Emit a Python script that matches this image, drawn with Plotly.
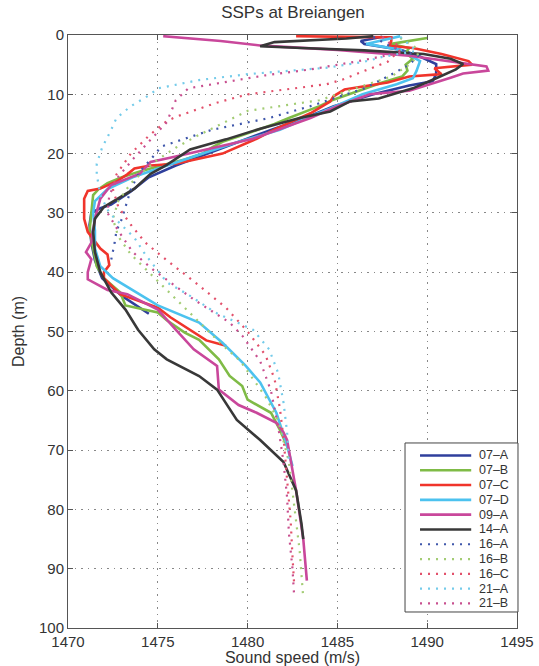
import plotly.graph_objects as go

# ---- data: depth (m) and sound speed (m/s) per profile ----
names = ["07–A", "07–B", "07–C", "07–D", "09–A", "14–A", "16–A", "16–B", "16–C", "21–A", "21–B"]

d_07A = [0.3, 1.0, 1.5, 2.5, 3.5, 4.9, 6.6, 7.8, 8.5, 10, 12, 14, 16, 18, 20, 22, 24, 26.4, 28.6, 29.2, 30, 32, 35, 38, 41, 44, 47]
c_07A = [1487.5, 1486.3, 1486.5, 1488.5, 1489.5, 1490.5, 1490.5, 1490.3, 1489, 1487, 1484.8, 1483.2, 1481.3, 1479.5, 1477.8, 1476, 1474.5, 1473.5, 1472.4, 1471.8, 1471.3, 1471.2, 1471.3, 1471.5, 1471.9, 1473, 1474.5]

d_07B = [0.5, 1.5, 2.2, 3, 4, 5, 6, 7, 8, 9, 10, 11, 12, 13, 14, 15, 16, 17, 18, 19, 20, 21, 22, 23, 24, 25, 26, 27, 30, 33, 36, 39, 41, 43.4, 45.6, 46.8, 48.1, 50.2, 51.4, 54.7, 57.5, 59.2, 61.5, 63.7, 66.6, 70]
c_07B = [1490, 1488, 1489, 1488.8, 1489.2, 1488.8, 1488.9, 1488.6, 1487.5, 1486.6, 1485.6, 1484.7, 1484, 1483.1, 1482.3, 1481.5, 1480.6, 1479.6, 1478.6, 1478, 1477.5, 1476.5, 1475.2, 1474, 1473, 1472.2, 1471.7, 1471.4, 1471.3, 1471.2, 1471.4, 1471.6, 1472, 1472.9, 1473.2, 1475, 1475.5, 1476.5, 1477.3, 1478.4, 1479, 1479.7, 1480, 1481.3, 1481.8, 1482.3]

d_07C = [0.2, 0.4, 1.0, 1.8, 2.2, 3.2, 4.4, 5.0, 5.6, 6.6, 7.0, 8, 9.2, 10.3, 11.2, 13.2, 15.8, 17.5, 20, 21.7, 22, 22.5, 23.5, 24.7, 25.9, 26.3, 27.6, 31, 33.2, 36, 37, 38.8, 40, 41, 43.7, 46, 47.6, 51.5, 52.4]
c_07C = [1482.7, 1488, 1488, 1487.9, 1489.2, 1490.8, 1492.3, 1492.5, 1490.4, 1490.8, 1489, 1487.8, 1485.4, 1484.8, 1484.6, 1483.5, 1481.6, 1480.5, 1478.6, 1476, 1474.6, 1473.7, 1473.3, 1472.7, 1471.8, 1471.1, 1470.9, 1470.9, 1471.1, 1471.8, 1472.2, 1472.3, 1472, 1472, 1472.9, 1475, 1475.7, 1477.7, 1478.8]

d_07D = [0.2, 1.5, 2.5, 4.4, 6.1, 7.3, 8.3, 10, 12.4, 14, 16, 18, 20, 22, 24, 26, 28, 30, 33, 36, 39, 41, 43, 45.6, 48.5, 51.9, 55.8, 58.6, 63.7, 69.3, 72.7]
c_07D = [1488.5, 1486.6, 1488.5, 1489.6, 1489.4, 1489.2, 1488.3, 1486.4, 1484.6, 1483.3, 1481.8, 1479.5, 1477.5, 1475.5, 1473.6, 1472.2, 1471.5, 1471.4, 1471.5, 1471.5, 1471.8, 1472.5, 1473.6, 1475, 1477.3, 1478.6, 1479.9, 1480.7, 1481.6, 1482.2, 1482.5]

d_09A = [0.2, 1.0, 1.8, 2.5, 3.5, 4.5, 5.3, 6.0, 6.5, 7.2, 9.4, 10, 12, 14, 16, 17.5, 20.5, 21.4, 23.4, 25.3, 27.6, 31, 35, 36.6, 37.8, 40, 41.2, 43, 43.7, 46.3, 49.7, 53, 55.8, 59.8, 62.4, 63.7, 65.4, 67, 68.3, 76.8, 85, 92]
c_09A = [1475.3, 1478.5, 1480.8, 1485, 1489, 1491.5, 1493.3, 1493.4, 1492, 1491.3, 1489, 1486.8, 1485, 1483.5, 1481.7, 1480.3, 1476, 1474.6, 1474, 1472.4, 1471.8, 1471.5, 1471.3, 1471, 1471.3, 1471.1, 1471.1, 1472.2, 1473.3, 1475, 1476, 1477, 1478.3, 1478.4, 1479.5, 1480.5, 1481.6, 1482, 1482.2, 1482.7, 1483.1, 1483.3]

d_14A = [0.2, 0.6, 1.2, 1.9, 2.2, 2.6, 3.2, 4.0, 4.9, 5.8, 7.3, 9, 10.7, 11.2, 12.9, 14, 15.8, 17.6, 19.3, 21.9, 23.4, 25.9, 29, 31, 33.2, 36.6, 40, 43.4, 46.3, 49.7, 53, 54.7, 57.5, 59.8, 64.9, 68.3, 72, 76.8, 82.4, 85]
c_14A = [1487, 1485.5, 1481.5, 1480.7, 1483, 1486.5, 1489.8, 1491.3, 1492, 1491.6, 1490.5, 1489.2, 1487.3, 1485.7, 1484.6, 1482.9, 1480.7, 1478.8, 1476.8, 1475.5, 1474.6, 1473.7, 1472, 1471.5, 1471.4, 1471.5, 1471.8, 1472.4, 1473.2, 1473.9, 1474.8, 1475.5, 1477.3, 1478.3, 1479.4, 1480.7, 1482, 1482.7, 1483, 1483.1]

d_16A = [0.3, 2, 3.5, 5, 7, 9, 10.5, 12, 14, 16, 18.8, 21, 23, 26, 28, 31, 33, 35, 38]
c_16A = [1487, 1488, 1489.5, 1489, 1487.8, 1486.5, 1485, 1483.5, 1481.2, 1478, 1475.2, 1474.6, 1474, 1473.5, 1473.3, 1473, 1472.7, 1472.6, 1472.4]

d_16B = [0.5, 2, 3.5, 5, 7, 9, 11, 12.8, 15, 17, 19, 21, 23, 25, 28, 31, 34, 37, 40, 43, 46, 49, 52, 55, 58, 61, 65, 68.6, 72, 77, 82, 87, 91, 95]
c_16B = [1488.5, 1489.3, 1489.5, 1489, 1488, 1486, 1484, 1480, 1478.5, 1477.2, 1476, 1475, 1474.2, 1473.5, 1472.8, 1472.5, 1472.8, 1473.5, 1474.5, 1475.5, 1476.5, 1477.5, 1478.5, 1479.6, 1480.3, 1481, 1481.7, 1482, 1482.3, 1482.5, 1482.7, 1482.9, 1483, 1483.1]

d_16C = [0.3, 2.5, 4.5, 6, 7.5, 8.3, 10, 11.5, 13.7, 14.5, 17, 20, 23.5, 26, 29, 32, 35, 38, 42, 46, 50, 54, 58, 63, 68, 75, 82, 88, 93]
c_16C = [1488, 1488.5, 1487.8, 1486.5, 1485.3, 1484.4, 1480, 1478.2, 1476.1, 1475.5, 1474.5, 1473.5, 1472.7, 1472.5, 1472.8, 1473.5, 1474.3, 1475.5, 1477.2, 1478.8, 1480, 1481, 1481.5, 1481.8, 1482, 1482.2, 1482.4, 1482.5, 1482.6]

d_21A = [0.3, 2.7, 3.7, 4.5, 5.5, 6.6, 7.6, 9, 10, 12, 14, 16, 19, 21.7, 23.5, 27, 30, 34.2, 37, 40, 41.7, 44, 46.8, 49.7, 53, 57, 62, 67, 72]
c_21A = [1488.5, 1489.4, 1487.5, 1486.5, 1484.5, 1480, 1477.3, 1475, 1474.6, 1473.5, 1472.7, 1472.4, 1471.9, 1471.6, 1471.6, 1471.8, 1472.3, 1473.7, 1474.3, 1475.1, 1475.5, 1476.8, 1478.2, 1480.3, 1481.2, 1481.7, 1482, 1482.2, 1482.3]

d_21B = [0.3, 3, 4.5, 5.8, 6.8, 9, 11, 14.7, 18, 21, 23.9, 27, 30, 33, 36.6, 39.5, 44.6, 48.5, 50.7, 55, 60, 66, 72, 78, 84, 90, 95]
c_21B = [1487.5, 1488.5, 1486, 1483.5, 1481, 1476.7, 1476, 1475.5, 1474.5, 1473.6, 1472.8, 1472.3, 1472.2, 1472.8, 1473.6, 1474.7, 1477, 1479, 1479.7, 1480.7, 1481.3, 1481.7, 1482, 1482.2, 1482.3, 1482.5, 1482.6]

depths = [d_07A, d_07B, d_07C, d_07D, d_09A, d_14A, d_16A, d_16B, d_16C, d_21A, d_21B]
speeds = [c_07A, c_07B, c_07C, c_07D, c_09A, c_14A, c_16A, c_16B, c_16C, c_21A, c_21B]

x_ticks = [1470, 1475, 1480, 1485, 1490, 1495]
y_ticks = [0, 10, 20, 30, 40, 50, 60, 70, 80, 90, 100]

# ---- styles ----
colors = ["#2f3f9c", "#7fbb46", "#f0342b", "#4cc2ef", "#c9479b", "#383838",
          "#3f57ab", "#a3cc74", "#e2506b", "#74cbea", "#c84f8f"]
dashes = ["solid"] * 6 + ["2px,6px"] * 5
widths = [2.6] * 6 + [2.2] * 5

fig = go.Figure()
for n, d, c, col, ds, w in zip(names, depths, speeds, colors, dashes, widths):
    fig.add_trace(go.Scatter(x=c, y=d, mode="lines", name=n, showlegend=False,
                             line=dict(color=col, width=w, dash=ds)))

# ---- compact legend box (paper coordinates), as in the original figure ----
L_X0, L_X1, L_Y0, L_Y1 = 0.7506, 1.0022, 0.027, 0.312
row_top, row_step = 0.291, 0.02496
shapes = [dict(type="rect", xref="paper", yref="paper", x0=L_X0, x1=L_X1, y0=L_Y0, y1=L_Y1,
               line=dict(color="#444", width=1), fillcolor="white", layer="above")]
annotations = []
for i, (n, col, ds, w) in enumerate(zip(names, colors, dashes, widths)):
    yy = row_top - i * row_step
    shapes.append(dict(type="line", xref="paper", yref="paper", x0=0.784, x1=0.898, y0=yy, y1=yy,
                       line=dict(color=col, width=w, dash=ds), layer="above"))
    annotations.append(dict(xref="paper", yref="paper", x=0.911, y=yy, text=n, showarrow=False,
                            xanchor="left", yanchor="middle",
                            font=dict(size=12.5, color="#333")))

axis_common = dict(
    showline=True, linecolor="#555", linewidth=1, mirror="ticks",
    ticks="inside", ticklen=5, tickcolor="#555",
    showgrid=True, gridcolor="#888", griddash="1.5px,5px", gridwidth=1.2,
    zeroline=False, tickfont=dict(size=15, color="#333"), automargin=False,
)

fig.update_layout(
    width=539, height=666,
    margin=dict(l=68, r=22, t=35, b=38),
    paper_bgcolor="white", plot_bgcolor="white",
    font=dict(family="Liberation Sans, Arial, sans-serif", color="#333"),
    title=dict(text="SSPs at Breiangen", x=0.5436, xanchor="center", y=0.982, yanchor="middle",
               font=dict(size=17, color="#333")),
    xaxis=dict(range=[1470, 1495], tickvals=x_ticks,
               title=dict(text="Sound speed (m/s)", standoff=0, font=dict(size=16, color="#333")),
               **axis_common),
    yaxis=dict(range=[100, 0], tickvals=y_ticks,
               title=dict(text="Depth (m)", standoff=10, font=dict(size=16, color="#333")),
               **axis_common),
    shapes=shapes,
    annotations=annotations,
    showlegend=False,
)

# remove the browser's default 8px page margin so the figure fills the window exactly
fig.write_html("out.html", config={"displayModeBar": False},
               post_script="document.body.style.margin='0';")
